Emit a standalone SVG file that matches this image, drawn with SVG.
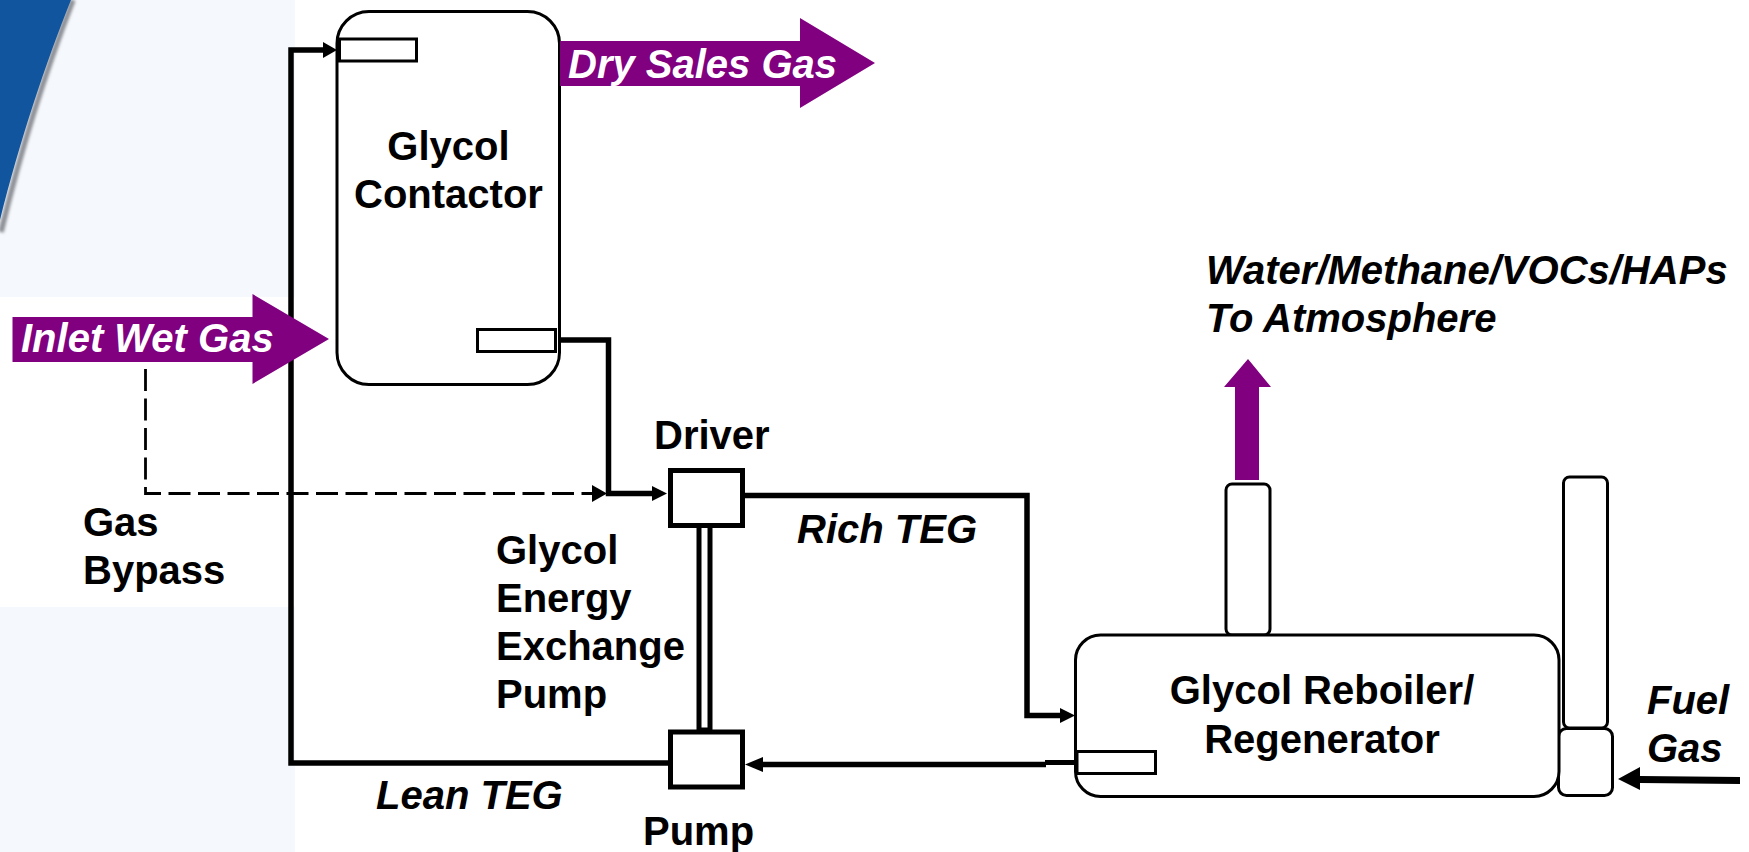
<svg xmlns="http://www.w3.org/2000/svg" width="1749" height="852" viewBox="0 0 1749 852">
<style>
text{font-family:"Liberation Sans",Arial,sans-serif;font-weight:bold;font-size:40px;fill:#000}
.i{font-style:italic}
.w{fill:#fff;font-size:40px}
.v{fill:#fff;stroke:#000;stroke-width:3}
.b{fill:#fff;stroke:#000;stroke-width:5}
.c{fill:none;stroke:#000;stroke-width:5.5}
.p{fill:#800080}
.k{fill:#000}
</style>
<defs>
<filter id="soft" x="-20%" y="-5%" width="140%" height="110%"><feGaussianBlur stdDeviation="1.6"/></filter>
</defs>
<g id="background">
<rect width="1749" height="852" fill="#fff"/>
<rect x="0" y="0" width="295" height="297" fill="#f5f8fc"/>
<rect x="0" y="607" width="295" height="245" fill="#f5f8fc"/>
<path d="M73,0 C49,62 23,140 1,232" fill="none" stroke="#8d9096" stroke-width="5.5" filter="url(#soft)"/>
<path d="M71,0 C46,62 20,140 0,220 L0,0 Z" fill="#11559f"/>
</g>
<g id="connectors">
<path class="c" d="M668,763 H291 V50 H325"/>
<path class="k" d="M337,50 L323,42 V58 Z"/>
<path class="c" d="M556,340 H608.500 V493.500 H654"/>
<path class="k" d="M667,493.500 L652,486 V501 Z"/>
<path d="M145.500,369 V493.500 H595" fill="none" stroke="#000" stroke-width="2.800" stroke-dasharray="22 7.500"/>
<path class="k" d="M607,493.500 L592,485 V502 Z"/>
<path class="c" d="M744,495.500 H1027 V715.500 H1062"/>
<path class="k" d="M1075,715.500 L1060,708 V723 Z"/>
<path d="M1076,762.500 H1045" fill="none" stroke="#000" stroke-width="5"/>
<path class="c" d="M1046,764.500 H760"/>
<path class="k" d="M745,764.500 L763,757 V772 Z"/>
<path class="k" d="M1618,779 L1640,767 V776 L1740,777 V784 L1640,783 V790 Z"/>
<rect x="699" y="523" width="11" height="207" fill="#fff" stroke="#000" stroke-width="5"/>
</g>
<g id="contactor">
<rect class="v" x="337" y="11.500" width="222.500" height="373" rx="32"/>
<rect class="v" x="339.500" y="39" width="77" height="22"/>
<rect class="v" x="477.500" y="329.500" width="78" height="22"/>
<text x="448.500" y="160" text-anchor="middle">Glycol</text>
<text x="448.500" y="208" text-anchor="middle">Contactor</text>
</g>
<g id="inlet-wet-gas">
<path class="p" d="M12.500,317 H252.500 V294 L329,339 L252.500,384 V362 H12.500 Z"/>
<text class="i w" x="21" y="352">Inlet Wet Gas</text>
</g>
<g id="dry-sales-gas">
<path class="p" d="M560,41 H800 V18 L875,63 L800,108 V86 H560 Z"/>
<text class="i w" x="568" y="78">Dry Sales Gas</text>
</g>
<g id="gas-bypass">
<text x="83" y="536">Gas</text>
<text x="83" y="584">Bypass</text>
</g>
<g id="driver">
<rect class="b" x="670.500" y="470.500" width="72" height="55"/>
<text x="654" y="449">Driver</text>
</g>
<g id="energy-exchange-pump">
<text x="496" y="564">Glycol</text>
<text x="496" y="612">Energy</text>
<text x="496" y="660">Exchange</text>
<text x="496" y="708">Pump</text>
</g>
<g id="pump">
<rect class="b" x="670.500" y="732" width="72" height="55"/>
<text x="643" y="845">Pump</text>
</g>
<g id="rich-teg"><text class="i" x="797" y="543">Rich TEG</text></g>
<g id="lean-teg"><text class="i" x="376" y="809">Lean TEG</text></g>
<g id="still-column">
<rect class="v" x="1226" y="484" width="44" height="151" rx="6"/>
</g>
<g id="stack">
<rect class="v" x="1563.500" y="477" width="44" height="251" rx="6"/>
</g>
<g id="firebox">
<rect class="v" x="1558.500" y="728.500" width="54" height="67" rx="8"/>
</g>
<g id="reboiler">
<rect class="v" x="1075.500" y="635" width="483.500" height="161.500" rx="25"/>
<rect class="v" x="1077" y="751.500" width="78.500" height="22"/>
<text x="1322" y="704" text-anchor="middle">Glycol Reboiler/</text>
<text x="1322" y="753" text-anchor="middle">Regenerator</text>
</g>
<g id="vent">
<path class="p" d="M1235,480 V387 H1224 L1248,359 L1271,387 H1259 V480 Z"/>
<text class="i" x="1206" y="284">Water/Methane/VOCs/HAPs</text>
<text class="i" x="1206" y="332">To Atmosphere</text>
</g>
<g id="fuel-gas">
<text class="i" x="1647" y="714">Fuel</text>
<text class="i" x="1647" y="762">Gas</text>
</g>
</svg>
